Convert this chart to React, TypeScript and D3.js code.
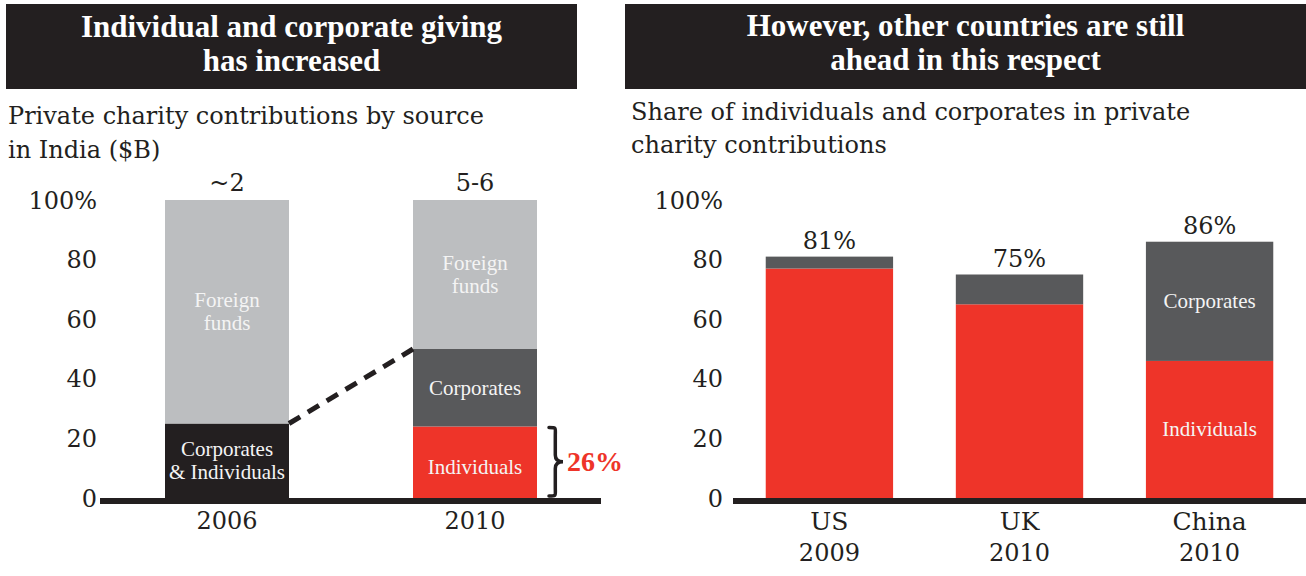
import * as React from "react";
import * as d3 from "d3";

// left panel: India, share of private charity by source
const indiaYears = ["2006", "2010"];
const indiaTotals = ["~2", "5-6"];
const indiaCombined = [25, 0]; // corporates & individuals, not split in 2006
const indiaIndividuals = [0, 24];
const indiaCorporates = [0, 26];
const indiaForeign = [75, 50];

// right panel: share of individuals and corporates by country
const countries = ["US", "UK", "China"];
const countryYears = ["2009", "2010", "2010"];
const countryIndividuals = [77, 65, 46];
const countryCorporates = [4, 10, 40];
const countryTotals = ["81%", "75%", "86%"];

const yTicks = [0, 20, 40, 60, 80, 100];

const RED = "#ee3429";
const DARK = "#58595b";
const LIGHT = "#bcbec0";
const BLACK = "#231f20";
const FONT = "'Liberation Serif', 'DejaVu Serif', serif";
const BODY = "'DejaVu Serif', 'Liberation Serif', serif";

const indiaKeys = ["combined", "individuals", "corporates", "foreign"];
const indiaColors = { combined: BLACK, individuals: RED, corporates: DARK, foreign: LIGHT };
const indiaLabels = {
  combined: ["Corporates", "& Individuals"],
  individuals: ["Individuals"],
  corporates: ["Corporates"],
  foreign: ["Foreign", "funds"],
};

const countryKeys = ["individuals", "corporates"];
const countryColors = { individuals: RED, corporates: DARK };

function App() {
  const y = d3.scaleLinear().domain([0, 100]).range([498, 200]);

  const xL = d3.scaleBand().domain(indiaYears).range([103, 599]).paddingInner(0.5).paddingOuter(0.25);
  const xR = d3.scaleBand().domain(countries).range([703, 1336]).paddingInner(0.33).paddingOuter(0.33);

  const indiaRows = indiaYears.map((yr, i) => ({
    year: yr,
    combined: indiaCombined[i],
    individuals: indiaIndividuals[i],
    corporates: indiaCorporates[i],
    foreign: indiaForeign[i],
  }));
  const indiaStack = d3.stack().keys(indiaKeys)(indiaRows as any);

  const countryRows = countries.map((c, i) => ({
    country: c,
    individuals: countryIndividuals[i],
    corporates: countryCorporates[i],
  }));
  const countryStack = d3.stack().keys(countryKeys)(countryRows as any);

  const bw = xL.bandwidth();
  // dashed connector: top of 2006 combined block to top of 2010 corporates
  const cx1 = (xL("2006") as number) + bw;
  const cy1 = y(indiaCombined[0]);
  const cx2 = xL("2010") as number;
  const cy2 = y(indiaIndividuals[1] + indiaCorporates[1]);

  // brace next to the 2010 individuals block
  const bx = (xL("2010") as number) + bw + 12;
  const bt = y(indiaIndividuals[1]) + 1;
  const bb = y(0) - 2;
  const bm = (bt + bb) / 2;
  const bwid = 14;
  const bh = bb - bt;
  const braceD = [
    `M${bx},${bt}`,
    `C${bx + bwid * 0.55},${bt} ${bx + bwid * 0.45},${bt} ${bx + bwid * 0.45},${bt + bh * 0.12}`,
    `L${bx + bwid * 0.45},${bm - bh * 0.1}`,
    `Q${bx + bwid * 0.45},${bm} ${bx + bwid},${bm}`,
    `Q${bx + bwid * 0.45},${bm} ${bx + bwid * 0.45},${bm + bh * 0.1}`,
    `L${bx + bwid * 0.45},${bb - bh * 0.12}`,
    `C${bx + bwid * 0.45},${bb} ${bx + bwid * 0.55},${bb} ${bx},${bb}`,
  ].join(" ");

  const segLabel = (lines: string[], cx: number, cy: number, size: number) => (
    <text x={cx} textAnchor="middle" fill="#f4f4f4" fontSize={size} fontFamily={FONT}>
      {lines.map((l, i) => (
        <tspan key={i} x={cx} y={cy + (i - (lines.length - 1) / 2) * 23 + size * 0.33}>
          {l}
        </tspan>
      ))}
    </text>
  );

  return (
    <svg width={1306} height={576} style={{ position: "absolute", left: 0, top: 0 }} fontFamily={FONT}>
      {/* headers */}
      <rect x={6} y={4} width={571} height={85} fill={BLACK} />
      <text x={291.5} textAnchor="middle" fill="#fff" fontWeight="bold" fontSize={31}>
        <tspan x={291.5} y={37}>Individual and corporate giving</tspan>
        <tspan x={291.5} y={71}>has increased</tspan>
      </text>
      <rect x={625} y={4} width={681} height={85} fill={BLACK} />
      <text x={965.5} textAnchor="middle" fill="#fff" fontWeight="bold" fontSize={31}>
        <tspan x={965.5} y={36}>However, other countries are still</tspan>
        <tspan x={965.5} y={70}>ahead in this respect</tspan>
      </text>

      {/* subtitles */}
      <text fontSize={24} fill={BLACK} fontFamily={BODY}>
        <tspan x={8} y={124}>Private charity contributions by source</tspan>
        <tspan x={8} y={158}>in India ($B)</tspan>
      </text>
      <text fontSize={24} fill={BLACK} fontFamily={BODY}>
        <tspan x={631} y={120}>Share of individuals and corporates in private</tspan>
        <tspan x={631} y={153}>charity contributions</tspan>
      </text>

      {/* left panel */}
      <g fontFamily={BODY}>
        {yTicks.map((t) => (
          <text key={t} x={97} y={y(t)} dy="0.36em" textAnchor="end" fontSize={24} fill={BLACK}>
            {t === 100 ? "100%" : t}
          </text>
        ))}
        {indiaStack.map((layer) =>
          layer.map((d, i) =>
            d[1] - d[0] > 0 ? (
              <rect
                key={layer.key + i}
                x={xL(indiaYears[i])}
                y={y(d[1])}
                width={bw}
                height={y(d[0]) - y(d[1])}
                fill={indiaColors[layer.key]}
              />
            ) : null
          )
        )}
        {indiaStack.map((layer) =>
          layer.map((d, i) =>
            d[1] - d[0] > 0 ? (
              <g key={"l" + layer.key + i}>
                {segLabel(
                  indiaLabels[layer.key],
                  (xL(indiaYears[i]) as number) + bw / 2,
                  (y(d[0]) + y(d[1])) / 2 + (layer.key === "individuals" ? 5 : 0),
                  21
                )}
              </g>
            ) : null
          )
        )}
        <line x1={cx1} y1={cy1} x2={cx2} y2={cy2} stroke={BLACK} strokeWidth={5} strokeDasharray="13 9" />
        <rect x={100} y={y(0)} width={501} height={6} fill={BLACK} />
        {indiaYears.map((yr, i) => (
          <g key={yr}>
            <text x={(xL(yr) as number) + bw / 2} y={529} textAnchor="middle" fontSize={24} fill={BLACK}>
              {yr}
            </text>
            <text x={(xL(yr) as number) + bw / 2} y={191} textAnchor="middle" fontSize={24} fill={BLACK}>
              {indiaTotals[i]}
            </text>
          </g>
        ))}
        <path d={braceD} fill="none" stroke={BLACK} strokeWidth={3.5} strokeLinecap="round" />
        <text x={bx + bwid + 4} y={bm + 9} fontSize={28} fontWeight="bold" fill={RED} fontFamily={FONT}>
          26%
        </text>
      </g>

      {/* right panel */}
      <g fontFamily={BODY}>
        {yTicks.map((t) => (
          <text key={t} x={723} y={y(t)} dy="0.36em" textAnchor="end" fontSize={24} fill={BLACK}>
            {t === 100 ? "100%" : t}
          </text>
        ))}
        {countryStack.map((layer) =>
          layer.map((d, i) => (
            <rect
              key={layer.key + i}
              x={xR(countries[i])}
              y={y(d[1])}
              width={xR.bandwidth()}
              height={y(d[0]) - y(d[1])}
              fill={countryColors[layer.key]}
            />
          ))
        )}
        {countryStack.map((layer) => {
          const i = countries.indexOf("China");
          const d = layer[i];
          return (
            <g key={"cl" + layer.key}>
              {segLabel(
                [layer.key === "individuals" ? "Individuals" : "Corporates"],
                (xR("China") as number) + xR.bandwidth() / 2,
                (y(d[0]) + y(d[1])) / 2,
                21
              )}
            </g>
          );
        })}
        <rect x={733} y={y(0)} width={573} height={6} fill={BLACK} />
        {countries.map((c, i) => {
          const cx = (xR(c) as number) + xR.bandwidth() / 2;
          const top = y(countryIndividuals[i] + countryCorporates[i]);
          return (
            <g key={c}>
              <text x={cx} y={top - 8} textAnchor="middle" fontSize={24} fill={BLACK}>
                {countryTotals[i]}
              </text>
              <text x={cx} y={530} textAnchor="middle" fontSize={25} fill={BLACK}>
                {c}
              </text>
              <text x={cx} y={561} textAnchor="middle" fontSize={24} fill={BLACK}>
                {countryYears[i]}
              </text>
            </g>
          );
        })}
      </g>
    </svg>
  );
}

export default App;
